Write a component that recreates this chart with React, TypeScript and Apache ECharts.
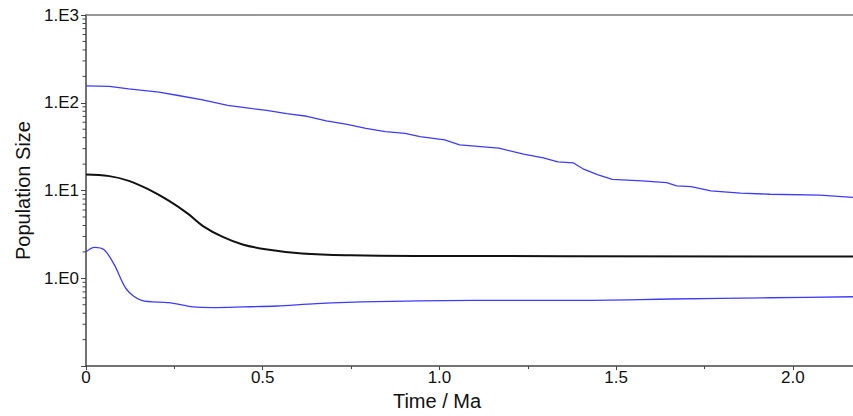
import React, { useEffect, useRef } from "react";
import * as echarts from "echarts";

const upperT = [0, 0.066, 0.121, 0.206, 0.261, 0.33, 0.401, 0.471, 0.511, 0.568, 0.625, 0.68, 0.735, 0.792, 0.847, 0.903, 0.945, 1.015, 1.057, 1.168, 1.238, 1.294, 1.335, 1.378, 1.406, 1.447, 1.489, 1.573, 1.643, 1.671, 1.712, 1.768, 1.852, 1.935, 2.076, 2.17];
const upperV = [156, 154, 144, 132, 121, 108, 93.3, 85.7, 81.9, 75.2, 70.2, 62.3, 57.0, 51.0, 46.9, 44.9, 41.2, 37.7, 33.1, 30.4, 26.0, 23.5, 21.2, 20.7, 17.7, 15.2, 13.4, 12.9, 12.3, 11.3, 11.1, 9.93, 9.33, 9.08, 8.85, 8.34];

const medianT = [0, 0.066, 0.121, 0.177, 0.234, 0.289, 0.331, 0.387, 0.443, 0.513, 0.611, 0.749, 0.959, 2.17];
const medianV = [15.2, 14.6, 12.9, 10.3, 7.66, 5.42, 3.94, 2.96, 2.43, 2.13, 1.92, 1.83, 1.8, 1.77];

const lowerT = [0, 0.024, 0.052, 0.08, 0.115, 0.157, 0.234, 0.303, 0.359, 0.443, 0.54, 0.652, 0.82, 1.099, 1.378, 1.657, 1.935, 2.17];
const lowerV = [2.01, 2.25, 2.1, 1.43, 0.746, 0.561, 0.528, 0.472, 0.464, 0.472, 0.484, 0.515, 0.542, 0.561, 0.561, 0.581, 0.601, 0.617];

const yDecades = [0.1, 1, 10, 100];
const minorMultipliers = [2, 3, 4, 5, 6, 7, 8, 9];

const pairs = (t: number[], v: number[]) => t.map((x, i) => [x, v[i]]);

export default function App() {
  const ref = useRef<HTMLDivElement>(null);
  useEffect(() => {
    if (!ref.current) return;
    const chart = echarts.init(ref.current, null, { renderer: "svg" });
    const minorData: number[][] = [];
    yDecades.forEach((d) => minorMultipliers.forEach((m) => minorData.push([0, d * m])));
    const axisColor = "#444";
    chart.setOption({
      animation: false,
      grid: { left: 86, top: 15, right: 0, bottom: 45 },
      xAxis: [
        {
          type: "value",
          min: 0,
          max: 2.17,
          interval: 0.5,
          name: "Time / Ma",
          nameLocation: "middle",
          nameGap: 22,
          nameTextStyle: { fontFamily: "Liberation Sans", fontSize: 20, color: "#111", padding: [0, 65, 0, 0] },
          axisLine: { lineStyle: { color: axisColor, width: 1.5 } },
          axisTick: { show: true, length: 4, lineStyle: { color: axisColor } },
          minorTick: { show: true, splitNumber: 2, length: 3, lineStyle: { color: axisColor } },
          splitLine: { show: false },
          axisLabel: {
            margin: 3,
            fontFamily: "Liberation Sans",
            fontSize: 17,
            color: "#111",
            showMaxLabel: false,
            formatter: (v: number) => (v === 0 ? "0" : v.toFixed(1)),
          },
        },
        {
          type: "value",
          position: "top",
          min: 0,
          max: 2.17,
          axisLine: { show: true, lineStyle: { color: "#777", width: 1.5 } },
          axisTick: { show: false },
          axisLabel: { show: false },
          splitLine: { show: false },
        },
      ],
      yAxis: {
        type: "log",
        logBase: 10,
        min: 0.1,
        max: 1000,
        name: "Population Size",
        nameLocation: "middle",
        nameGap: 50,
        nameTextStyle: { fontFamily: "Liberation Sans", fontSize: 20, color: "#111" },
        axisLine: { show: true, lineStyle: { color: axisColor, width: 1.5 } },
        axisTick: { show: true, length: 5, lineStyle: { color: axisColor } },
        splitLine: { show: false },
        axisLabel: {
          margin: 7,
          fontFamily: "Liberation Sans",
          fontSize: 17,
          color: "#111",
          formatter: (v: number) => (v >= 1 ? "1.E" + Math.round(Math.log10(v)) : ""),
        },
      },
      series: [
        {
          type: "custom",
          silent: true,
          clip: false,
          data: minorData,
          renderItem: (params: any, api: any) => {
            const p = api.coord([0, api.value(1)]);
            return {
              type: "line",
              shape: { x1: p[0] - 3.5, y1: p[1], x2: p[0], y2: p[1] },
              style: { stroke: axisColor, lineWidth: 1 },
            };
          },
        },
        {
          type: "line",
          data: pairs(upperT, upperV),
          showSymbol: false,
          lineStyle: { color: "#3c3cff", width: 1.3 },
        },
        {
          type: "line",
          data: pairs(medianT, medianV),
          showSymbol: false,
          smooth: 0.4,
          lineStyle: { color: "#111", width: 2 },
        },
        {
          type: "line",
          data: pairs(lowerT, lowerV),
          showSymbol: false,
          smooth: 0.3,
          lineStyle: { color: "#3c3cff", width: 1.3 },
        },
      ],
    });
    return () => chart.dispose();
  }, []);
  return <div ref={ref} style={{ position: "absolute", left: 0, top: 0, width: 853, height: 416 }} />;
}
